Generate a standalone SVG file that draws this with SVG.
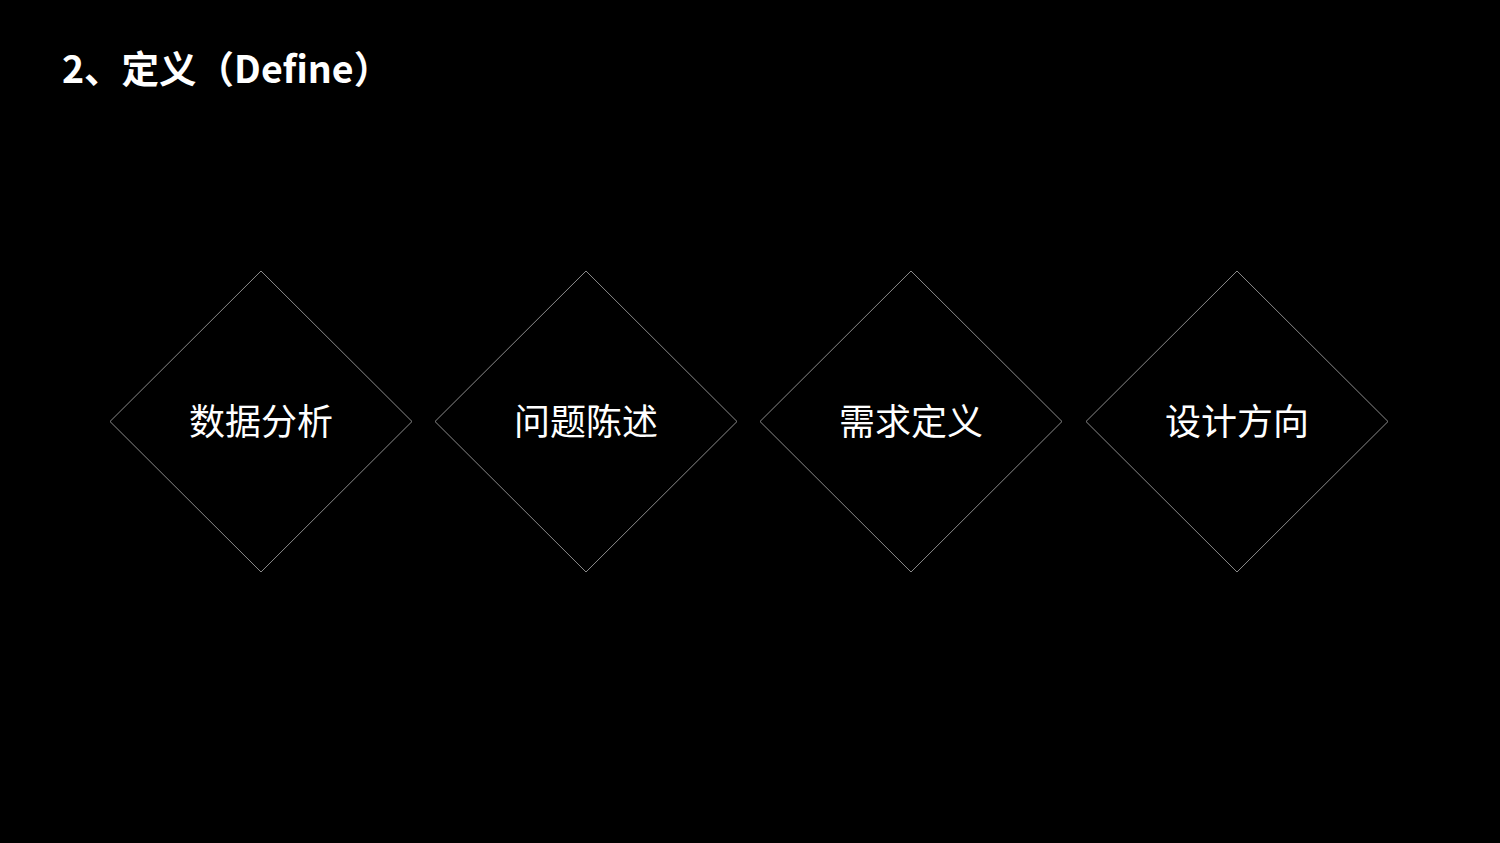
<svg xmlns="http://www.w3.org/2000/svg" width="1500" height="843" viewBox="0 0 1500 843">
<style>
.bg{fill:#000}
.dia{fill:#000;stroke:#8a8a8a;stroke-width:1}
.lbl{font-family:"Noto Sans CJK SC","Noto Sans",sans-serif;font-size:36px;fill:#fff;text-anchor:middle}
.title{font-family:"Noto Sans CJK SC","Noto Sans",sans-serif;font-size:37.5px;font-weight:bold;fill:#fff}
</style>
<rect class="bg" x="0" y="0" width="1500" height="843"/>
<text class="title" x="62" y="82.5">2、定义（Define）</text>
<g id="connectors"></g>
<g id="n1"><polygon class="dia" points="261,271 412,421.5 261,572 110,421.5"/><text class="lbl" x="261" y="435">数据分析</text></g>
<g id="n2"><polygon class="dia" points="586,271 737,421.5 586,572 435,421.5"/><text class="lbl" x="586" y="435">问题陈述</text></g>
<g id="n3"><polygon class="dia" points="911,271 1062,421.5 911,572 760,421.5"/><text class="lbl" x="911" y="435">需求定义</text></g>
<g id="n4"><polygon class="dia" points="1237,271 1388,421.5 1237,572 1086,421.5"/><text class="lbl" x="1237" y="435">设计方向</text></g>
</svg>
